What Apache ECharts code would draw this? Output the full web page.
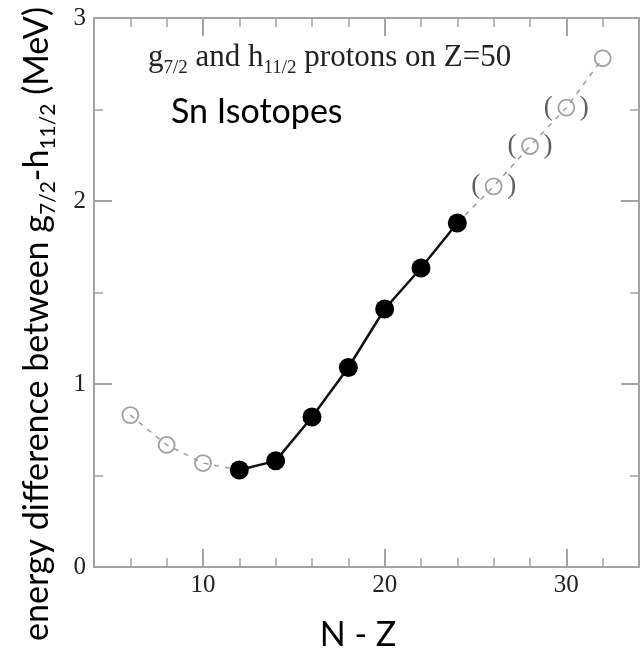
<!DOCTYPE html>
<html>
<head>
<meta charset="utf-8">
<script src="https://cdn.jsdelivr.net/npm/echarts@6/dist/echarts.min.js"></script>
<style>
  html, body { margin: 0; padding: 0; background: #fff; }
  #chart { width: 643px; height: 650px; }
</style>
</head>
<body>
<div id="chart"></div>
<script>
// N - Z values and g7/2 - h11/2 splitting (MeV)
var nzLeft = [6, 8, 10];
var eLeft = [0.83, 0.667, 0.568];
var nzSolid = [12, 14, 16, 18, 20, 22, 24];
var eSolid = [0.53, 0.58, 0.82, 1.09, 1.41, 1.634, 1.88];
var nzRight = [26, 28, 30, 32];
var eRight = [2.08, 2.30, 2.51, 2.78];
var tentRight = [true, true, true, false];   // values shown in brackets

var xMajor = [10, 20, 30];
var yMajor = [0, 1, 2, 3];

var frameColor = '#a3a3a3';
var serif = '"Liberation Serif", "DejaVu Serif", serif';
var sans = 'Lato, "Open Sans", sans-serif';

var myChart = echarts.init(document.getElementById('chart'));

function pairs(xs, ys) {
	var out = [];
	for (var i = 0; i < xs.length; i++) out.push([xs[i], ys[i]]);
	return out;
}

var dashLeft = pairs(nzLeft, eLeft).concat([[nzSolid[0], eSolid[0]]]);
var dashRight = [[nzSolid[nzSolid.length - 1], eSolid[eSolid.length - 1]]].concat(pairs(nzRight, eRight));

var rightPts = [];
for (var i = 0; i < nzRight.length; i++) {
	rightPts.push({ value: [nzRight[i], eRight[i]], label: { show: tentRight[i] } });
}

function xAx(pos, major, showLine, labels) {
	return {
		type: 'value', position: pos, min: 4, max: 34, interval: 2,
		axisLine: { show: showLine, onZero: false, lineStyle: { color: frameColor, width: 2 } },
		axisTick: major
			? { show: true, inside: true, length: 18, customValues: xMajor, lineStyle: { color: frameColor, width: 2 } }
			: { show: true, inside: true, length: 9, lineStyle: { color: frameColor, width: 1.5 } },
		axisLabel: labels
			? { show: true, customValues: xMajor, color: '#222', fontFamily: serif, fontSize: 25, margin: 6 }
			: { show: false },
		splitLine: { show: false }
	};
}

function yAx(pos, major, showLine, labels) {
	return {
		type: 'value', position: pos, min: 0, max: 3, interval: 0.5,
		axisLine: { show: showLine, onZero: false, lineStyle: { color: frameColor, width: 2 } },
		axisTick: major
			? { show: true, inside: true, length: 18, customValues: yMajor, lineStyle: { color: frameColor, width: 2 } }
			: { show: true, inside: true, length: 9, lineStyle: { color: frameColor, width: 1.5 } },
		axisLabel: labels
			? { show: true, customValues: yMajor, color: '#222', fontFamily: serif, fontSize: 25, margin: 8 }
			: { show: false },
		splitLine: { show: false }
	};
}

var option = {
	animation: false,
	backgroundColor: '#fff',
	grid: { left: 94, right: 4, top: 18, bottom: 83 },
	xAxis: [
		xAx('bottom', false, true, true),
		xAx('bottom', true, false, false),
		xAx('top', false, true, false),
		xAx('top', true, false, false)
	],
	yAxis: [
		yAx('left', false, true, true),
		yAx('left', true, false, false),
		yAx('right', false, true, false),
		yAx('right', true, false, false)
	],
	graphic: [
		{
			type: 'text', x: 34, y: 324, rotation: Math.PI / 2,
			style: {
				text: '{m|energy difference between g}{s|7/2}{m|-h}{s|11/2}{m| (MeV)}',
				align: 'center', verticalAlign: 'middle', fill: '#000',
				rich: {
					m: { fontFamily: sans, fontSize: 34, lineHeight: 41, verticalAlign: 'bottom' },
					s: { fontFamily: sans, fontSize: 21, lineHeight: 41, verticalAlign: 'bottom', padding: [0, 0, -4, 0] }
				}
			}
		},
		{
			type: 'text', x: 358, y: 635,
			style: {
				text: 'N - Z', align: 'center', verticalAlign: 'middle', fill: '#000',
				fontFamily: sans, fontSize: 34
			}
		},
		{
			type: 'text', left: 148, top: 42,
			style: {
				text: '{m|g}{s|7/2}{m| and h}{s|11/2}{m| protons on Z=50}',
				fill: '#222',
				rich: {
					m: { fontFamily: serif, fontSize: 31, lineHeight: 38, verticalAlign: 'bottom' },
					s: { fontFamily: serif, fontSize: 19, lineHeight: 38, verticalAlign: 'bottom', padding: [0, 0, -5, 0] }
				}
			}
		},
		{
			type: 'text', left: 171, top: 95,
			style: { text: 'Sn Isotopes', fill: '#000', fontFamily: sans, fontSize: 34 }
		}
	],
	series: [
		{
			type: 'line', data: dashLeft, showSymbol: false, silent: true,
			lineStyle: { color: '#9a9a9a', width: 1.5, type: [5, 6] }
		},
		{
			type: 'line', data: dashRight, showSymbol: false, silent: true,
			lineStyle: { color: '#9a9a9a', width: 1.5, type: [5, 6] }
		},
		{
			type: 'scatter', data: pairs(nzLeft, eLeft), symbol: 'circle', symbolSize: 16,
			itemStyle: { color: 'transparent', borderColor: '#888', borderWidth: 1.8 }
		},
		{
			type: 'scatter', data: rightPts, symbol: 'circle', symbolSize: 16,
			itemStyle: { color: 'transparent', borderColor: '#888', borderWidth: 1.8 },
			label: {
				position: 'inside', formatter: '(    )', color: '#333',
				fontFamily: serif, fontSize: 27
			}
		},
		{
			type: 'line', data: pairs(nzSolid, eSolid), symbol: 'circle', symbolSize: 19,
			itemStyle: { color: '#000' },
			lineStyle: { color: '#111', width: 2.5 }
		}
	]
};

myChart.setOption(option);
</script>
</body>
</html>
